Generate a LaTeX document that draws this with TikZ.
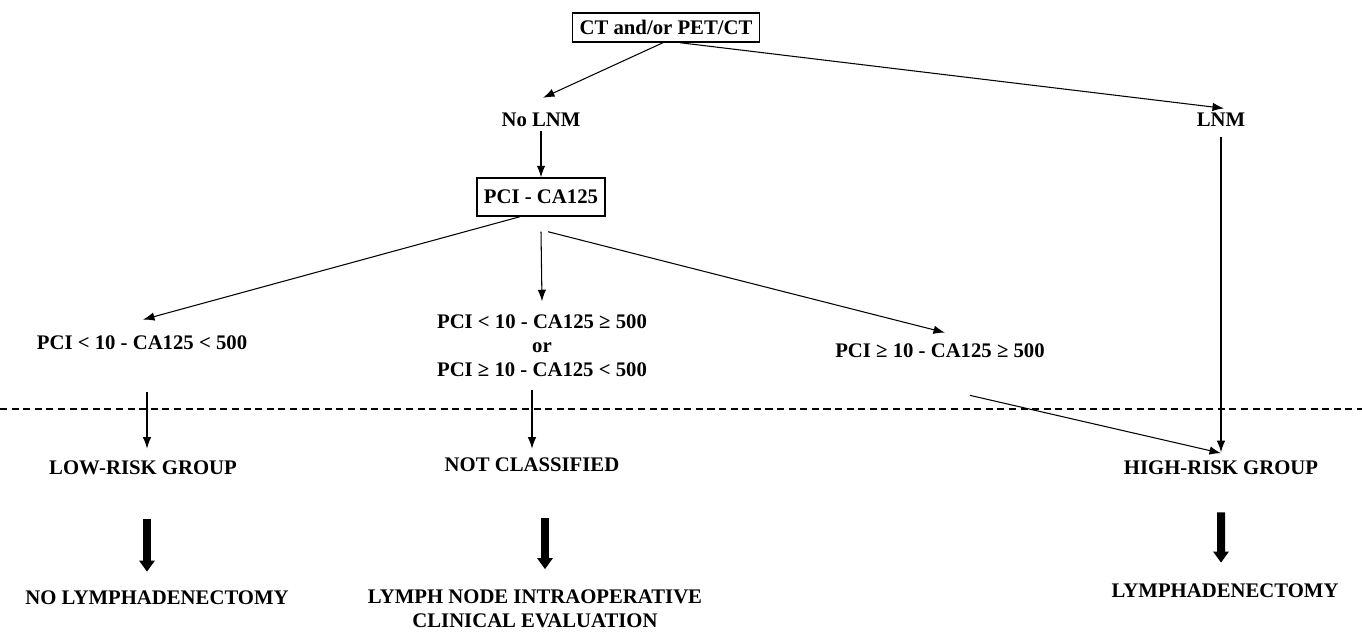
\documentclass[tikz,border=0pt]{standalone}
\usepackage{fontspec}
\setmainfont{Liberation Serif}
\usetikzlibrary{shapes,arrows,arrows.meta,calc,positioning}

\begin{document}
\begin{tikzpicture}

    \tikzstyle{txt} = [font=\fontsize{11.8}{13.6}\selectfont\bfseries, align=center, inner sep=2pt]

    \tikzstyle{boxed} = [txt, draw, line width=0.8pt, inner xsep=4pt, minimum height=0.58cm]

    \tikzstyle{line} = [draw, line width=0.6pt, -{Latex[length=2.3mm,width=1.7mm]}]

    \tikzstyle{fatArrow} = [draw, line width=1.6mm, -{Triangle[length=2.2mm,width=3.0mm]}]

    \useasboundingbox (0,0) rectangle (27.24,-12.64);

    % Imaging
    \node [boxed] (ct) at (13.32,-0.55) {CT and/or PET/CT};
    \node [txt] (nolnm) at (10.82,-2.40) {No LNM};
    \node [txt, right of=nolnm, node distance=13.6cm] (lnm) {LNM};

    % PCI and CA125
    \node [boxed, below of=nolnm, node distance=1.54cm, minimum height=0.76cm] (pci) {PCI - CA125};
    \node [txt] (low) at (2.84,-6.86) {PCI < 10 - CA125 < 500};
    \node [txt] (mid) at (10.84,-6.92) {PCI < 10 - CA125 ≥ 500\\or\\PCI ≥ 10 - CA125 < 500};
    \node [txt] (high) at (18.80,-7.02) {PCI ≥ 10 - CA125 ≥ 500};

    % Risk groups
    \coordinate (dl) at (0,-8.18);
    \coordinate (dr) at (27.24,-8.18);
    \draw [dashed, line width=0.6pt, dash pattern=on 4pt off 2.6pt] (dl) -- (dr);

    \node [txt] (lowrisk) at (2.86,-9.36) {LOW-RISK GROUP};
    \node [txt] (notcl) at (10.64,-9.30) {NOT CLASSIFIED};
    \node [txt, below of=lnm, node distance=6.96cm] (highrisk) {HIGH-RISK GROUP};

    % Treatment
    \node [txt] (nolymph) at (3.14,-11.96) {NO LYMPHADENECTOMY};
    \node [txt] (lymphnode) at (10.70,-12.17) {LYMPH NODE INTRAOPERATIVE\\CLINICAL EVALUATION};
    \node [txt] (lymph) at (24.50,-11.82) {LYMPHADENECTOMY};

    \draw [line] ([xshift=-0.06cm]ct.south) -- ([xshift=0.04cm,yshift=0.23cm]nolnm.north);
    \draw [line] ([xshift=0.28cm]ct.south) -- ([xshift=0.06cm,yshift=0.02cm]lnm.north);
    \draw [line] (nolnm.south) -- (pci.north);

    \draw [line] ([xshift=-0.42cm]pci.south) -- ([xshift=0.02cm,yshift=0.25cm]low.north);
    \draw [line] ([yshift=-0.3cm]pci.south) -- ([yshift=0.2cm]mid.north);
    \draw [line] ([xshift=0.14cm,yshift=-0.3cm]pci.south) -- ([xshift=0.1cm,yshift=0.15cm]high.north);

    \draw [line] ([xshift=0.1cm,yshift=-0.77cm]low.south) -- ([xshift=0.08cm,yshift=0.17cm]lowrisk.north);
    \draw [line] ([xshift=-0.2cm,yshift=-0.19cm]mid.south) -- ([yshift=0.11cm]notcl.north);
    \draw [line] ([xshift=0.6cm,yshift=-0.67cm]high.south) -- ([yshift=0.08cm]highrisk.north);
    \draw [line] ([yshift=-0.13cm]lnm.south) -- ([yshift=0.1cm]highrisk.north);

    \draw [fatArrow] ([xshift=0.08cm,yshift=-0.81cm]lowrisk.south) -- ([xshift=-0.2cm,yshift=0.31cm]nolymph.north);
    \draw [fatArrow] ([xshift=0.26cm,yshift=-0.85cm]notcl.south) -- ([xshift=0.2cm,yshift=0.33cm]lymphnode.north);
    \draw [fatArrow] ([yshift=-0.67cm]highrisk.south) -- ([xshift=-0.08cm,yshift=0.35cm]lymph.north);

\end{tikzpicture}
\end{document}
